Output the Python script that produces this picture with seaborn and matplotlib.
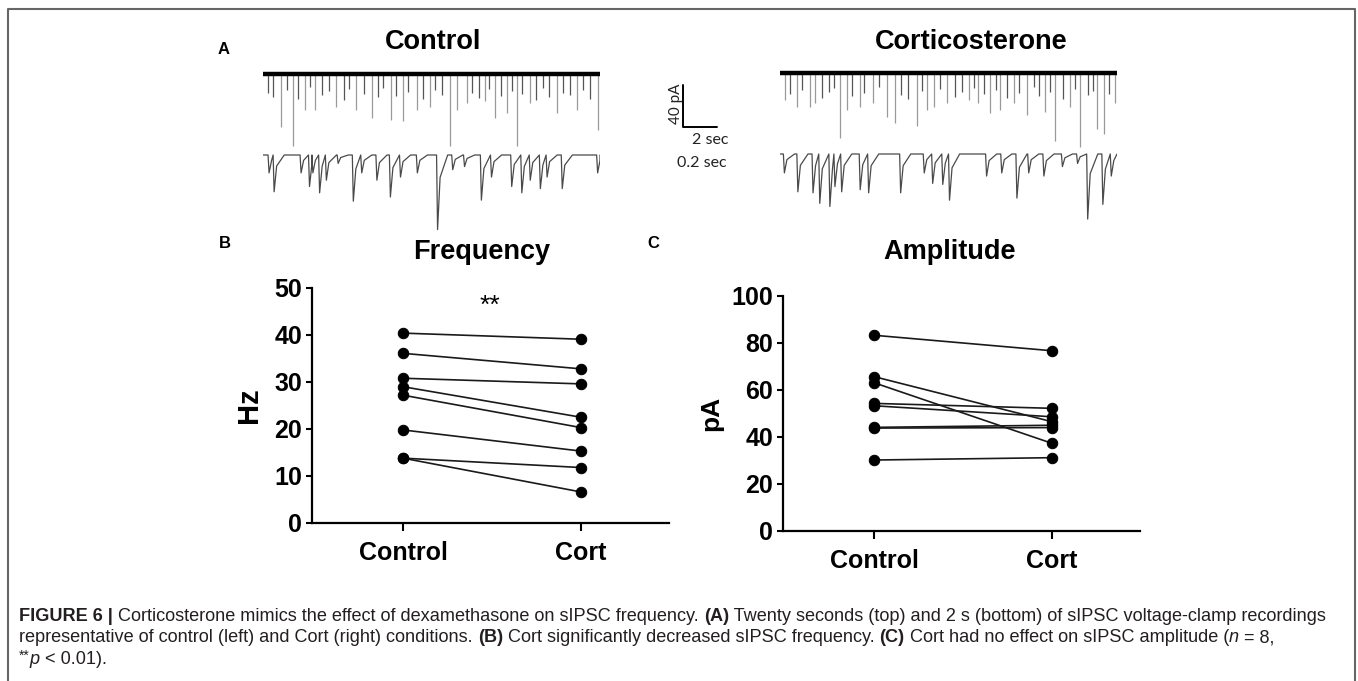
import matplotlib

matplotlib.use("Agg")
import matplotlib.pyplot as plt
import pandas as pd
import seaborn as sns
from matplotlib.lines import Line2D

W, H = 1358, 681

CONDITIONS = ["Control", "Cort"]
FREQ_CONTROL = [40.4, 36.1, 30.8, 29.0, 27.2, 19.8, 13.8, 13.8]
FREQ_CORT = [39.1, 32.8, 29.6, 22.5, 20.3, 15.3, 11.8, 6.6]
AMP_CONTROL = [83.3, 65.7, 63.1, 54.3, 53.3, 44.1, 43.8, 30.2]
AMP_CORT = [76.7, 46.5, 37.3, 52.2, 48.6, 45.0, 44.0, 31.2]
FREQ_TICKS = [0, 10, 20, 30, 40, 50]
AMP_TICKS = [0, 20, 40, 60, 80, 100]

# panel A events: time (s) and peak amplitude (pA)
CTRL_20S_T = [1.09, 1.78, 2.48, 3.07, 4.36, 5.54, 6.44, 7.62, 8.32, 9.11, 9.90,
              11.09, 11.49, 12.08, 13.17, 13.76, 14.46, 15.05, 15.84, 17.43, 18.61, 19.90]
CTRL_20S_A = [50, 69, 34, 34, 31, 34, 42, 44, 45, 34, 31,
              69, 34, 28, 26, 42, 37, 69, 28, 37, 34, 53]
CTRL_20S_SMALL_T = [0.3, 0.6, 1.4, 2.1, 2.8, 3.5, 3.9, 4.8, 5.1, 6.0, 6.8, 7.1, 7.9, 8.6, 9.5,
                    10.2, 10.6, 12.4, 12.8, 13.4, 14.1, 14.8, 15.4, 16.2, 16.6, 17.0, 17.8, 18.2, 19.0, 19.4]
CTRL_20S_SMALL_A = [18, 22, 15, 24, 12, 20, 16, 25, 14, 19, 22, 13, 21, 17, 24,
                    15, 20, 18, 23, 14, 21, 16, 19, 25, 13, 22, 18, 20, 15, 24]

CTRL_2S_T = [0.03, 0.06, 0.22, 0.27, 0.29, 0.33, 0.37, 0.44, 0.53, 0.58, 0.67, 0.75, 0.81,
             0.91, 1.03, 1.12, 1.19, 1.29, 1.35, 1.47, 1.53, 1.58, 1.64, 1.68, 1.77, 1.98]
CTRL_2S_A = [17, 35, 17, 30, 17, 36, 24, 8, 44, 17, 24, 40, 21,
             17, 71, 14, 11, 43, 21, 30, 36, 24, 32, 21, 32, 17]

CORT_20S_T = [0.30, 0.99, 1.78, 2.08, 3.56, 3.96, 4.75, 5.54, 6.34, 6.83, 8.12, 8.71, 9.11, 9.90,
              11.19, 11.78, 12.48, 13.07, 13.86, 14.65, 15.74, 16.34, 17.23, 17.82, 18.81, 19.21, 19.90]
CORT_20S_A = [26, 32, 32, 29, 62, 35, 32, 29, 42, 48, 50, 35, 32, 29,
              26, 29, 38, 35, 29, 40, 37, 65, 32, 70, 53, 58, 29]
CORT_20S_SMALL_T = [0.6, 1.3, 2.5, 2.9, 3.2, 4.3, 5.0, 5.9, 7.2, 7.6, 8.4, 9.5, 10.4, 10.8,
                    11.5, 12.1, 12.8, 13.5, 14.2, 15.1, 15.4, 16.0, 16.8, 17.5, 18.3, 18.6, 19.5]
CORT_20S_SMALL_A = [20, 16, 24, 18, 14, 22, 19, 13, 21, 25, 17, 15, 23, 18,
                    14, 20, 16, 24, 19, 13, 22, 18, 25, 15, 21, 17, 20]

CORT_2S_T = [0.02, 0.10, 0.19, 0.23, 0.29, 0.32, 0.36, 0.47, 0.52, 0.71, 0.85, 0.90,
             0.96, 1.00, 1.22, 1.31, 1.40, 1.47, 1.56, 1.67, 1.76, 1.82, 1.91, 1.96]
CORT_2S_A = [18, 36, 37, 47, 50, 31, 36, 34, 37, 37, 18, 28,
             29, 44, 21, 18, 42, 18, 21, 12, 9, 62, 48, 21]

# caption runs: text, weight, style, size, rise (px)
CAPTION = [
    [("FIGURE 6 |", "bold", "normal", 13.1, 0),
     (" Corticosterone mimics the effect of dexamethasone on sIPSC frequency. ", "normal", "normal", 13.1, 0),
     ("(A)", "bold", "normal", 13.1, 0),
     (" Twenty seconds (top) and 2 s (bottom) of sIPSC voltage-clamp recordings", "normal", "normal", 13.1, 0)],
    [("representative of control (left) and Cort (right) conditions. ", "normal", "normal", 13.1, 0),
     ("(B)", "bold", "normal", 13.1, 0),
     (" Cort significantly decreased sIPSC frequency. ", "normal", "normal", 13.1, 0),
     ("(C)", "bold", "normal", 13.1, 0),
     (" Cort had no effect on sIPSC amplitude (", "normal", "normal", 13.1, 0),
     ("n", "normal", "italic", 13.1, 0),
     (" = 8,", "normal", "normal", 13.1, 0)],
    [("**", "normal", "normal", 10, 4), ("p", "normal", "italic", 13.1, 0),
     (" < 0.01).", "normal", "normal", 13.1, 0)],
]

sns.set_style("ticks")
plt.rcParams["font.family"] = ["Liberation Sans", "DejaVu Sans"]
plt.rcParams.update({
    "text.color": "black",
    "axes.labelcolor": "black",
    "axes.edgecolor": "black",
    "xtick.color": "black",
    "ytick.color": "black",
})

fig = plt.figure(figsize=(W / 100, H / 100), dpi=100)

PX_PA = 40 / 42  # scale bar: 40 pA over 42 px


def px_axes(left, top, right, bottom):
    return fig.add_axes([left / W, 1 - bottom / H, (right - left) / W, (bottom - top) / H])


def trace_axes(left, right, top, bottom, base, t_max):
    ax = px_axes(left, top, right, bottom)
    ax.set_xlim(0, t_max)
    ax.set_ylim(-(bottom - base) * PX_PA, (base - top) * PX_PA)
    ax.axis("off")
    return ax


def draw_long(ax, t, a, t_small, a_small):
    ax.vlines(t, [-v for v in a], 0, color="#9a9a9a", lw=0.9)
    ax.vlines(t_small, [-v for v in a_small], 0, color="#555555", lw=0.9)
    ax.plot([0, 20], [0, 0], color="black", lw=3.2, solid_capstyle="butt")


def draw_short(ax, t, a, rise=0.006, decay=0.06):
    events = sorted(zip(t, a))
    xs, ys = [0.0], [0.0]
    for i, (ti, ai) in enumerate(events):
        nxt = events[i + 1][0] if i + 1 < len(events) else 2.0
        end = min(ti + rise + decay, nxt)
        mid = min(ti + rise + decay * 0.25, end)
        xs += [ti, ti + rise, mid, end]
        ys += [0.0, -ai, -ai * 0.3, 0.0]
    xs.append(2.0)
    ys.append(0.0)
    ax.plot(xs, ys, color="#4a4a4a", lw=0.9)


# ---- panel A: traces ----
ax = trace_axes(263, 600, 62, 150, 74, 20)
draw_long(ax, CTRL_20S_T, CTRL_20S_A, CTRL_20S_SMALL_T, CTRL_20S_SMALL_A)
ax = trace_axes(263, 600, 145, 235, 155, 2)
draw_short(ax, CTRL_2S_T, CTRL_2S_A)
ax = trace_axes(780, 1117, 62, 150, 73, 20)
draw_long(ax, CORT_20S_T, CORT_20S_A, CORT_20S_SMALL_T, CORT_20S_SMALL_A)
ax = trace_axes(780, 1117, 145, 235, 154, 2)
draw_short(ax, CORT_2S_T, CORT_2S_A)

# scale bar: 2 s x 40 pA
sb = px_axes(683, 85, 717, 127)
sb.plot([0, 0, 2], [40, 0, 0], color="black", lw=1.4, clip_on=False)
sb.set_xlim(0, 2)
sb.set_ylim(0, 40)
sb.axis("off")
fig.text(676 / W, 1 - 104 / H, "40 pA", rotation=90, ha="center", va="center",
         fontsize=11, family="Lato", color="#222222")
fig.text(710 / W, 1 - 140 / H, "2 sec", ha="center", va="center",
         fontsize=11.5, family="Lato", color="#222222")
fig.text(702 / W, 1 - 163 / H, "0.2 sec", ha="center", va="center",
         fontsize=11.5, family="Lato", color="#222222")

fig.text(433 / W, 1 - 42 / H, "Control", ha="center", va="center", fontsize=19.5, weight="bold")
fig.text(971 / W, 1 - 42 / H, "Corticosterone", ha="center", va="center", fontsize=19.5, weight="bold")
fig.text(224 / W, 1 - 49 / H, "A", ha="center", va="center", fontsize=12, weight="bold")
fig.text(225 / W, 1 - 243 / H, "B", ha="center", va="center", fontsize=12, weight="bold")
fig.text(653 / W, 1 - 243 / H, "C", ha="center", va="center", fontsize=12, weight="bold")


# ---- panels B and C: paired plots ----
def paired_plot(box, ctrl, cort, ticks, ylabel, title, title_x, label_pad, label_size):
    ax = px_axes(*box)
    df = pd.DataFrame({
        "cell": list(range(len(ctrl))) * 2,
        "condition": [CONDITIONS[0]] * len(ctrl) + [CONDITIONS[1]] * len(cort),
        "value": list(ctrl) + list(cort),
    })
    sns.lineplot(data=df, x="condition", y="value", units="cell", estimator=None,
                 color="#1a1a1a", lw=1.2, marker="o", markersize=7.5,
                 markeredgecolor="black", markerfacecolor="black", legend=False, ax=ax)
    ax.set_xlim(-0.511, 1.494)
    ax.set_ylim(ticks[0], ticks[-1])
    ax.set_yticks(ticks)
    ax.set_xlabel("")
    ax.set_ylabel(ylabel, fontsize=label_size, weight="bold", labelpad=label_pad)
    sns.despine(ax=ax)
    for side in ["left", "bottom"]:
        ax.spines[side].set_linewidth(1.6)
    ax.tick_params(axis="y", length=4, width=1.5, pad=3, labelsize=18)
    ax.tick_params(axis="x", length=6, width=1.5, pad=7, labelsize=18)
    plt.setp(ax.get_xticklabels() + ax.get_yticklabels(), fontweight="bold")
    fig.text(title_x / W, 1 - 252 / H, title, ha="center", va="center", fontsize=19.5, weight="bold")
    return ax


axb = paired_plot((312, 288, 669, 523), FREQ_CONTROL, FREQ_CORT, FREQ_TICKS, "Hz",
                  "Frequency", 482, 8, 21)
axb.text(0.49, 46.3, "**", ha="center", va="center", fontsize=19)
paired_plot((783, 296, 1140, 531), AMP_CONTROL, AMP_CORT, AMP_TICKS, "pA",
            "Amplitude", 950, 6, 19)

# ---- frame ----
fig.add_artist(Line2D([8 / W, 8 / W, 1355 / W, 1355 / W], [0, 1 - 9 / H, 1 - 9 / H, 0],
                      transform=fig.transFigure, color="#666666", lw=1.5))

# ---- caption ----
renderer = fig.canvas.get_renderer()
for i, line in enumerate(CAPTION):
    x = 19
    y = 621 + i * 21.5
    for text, weight, style, size, rise in line:
        t = fig.text(x / W, 1 - (y - rise) / H, text, ha="left", va="baseline", fontsize=size,
                     weight=weight, style=style, color="#231f20")
        x += t.get_window_extent(renderer).width

fig.savefig("out.png", dpi=100)
